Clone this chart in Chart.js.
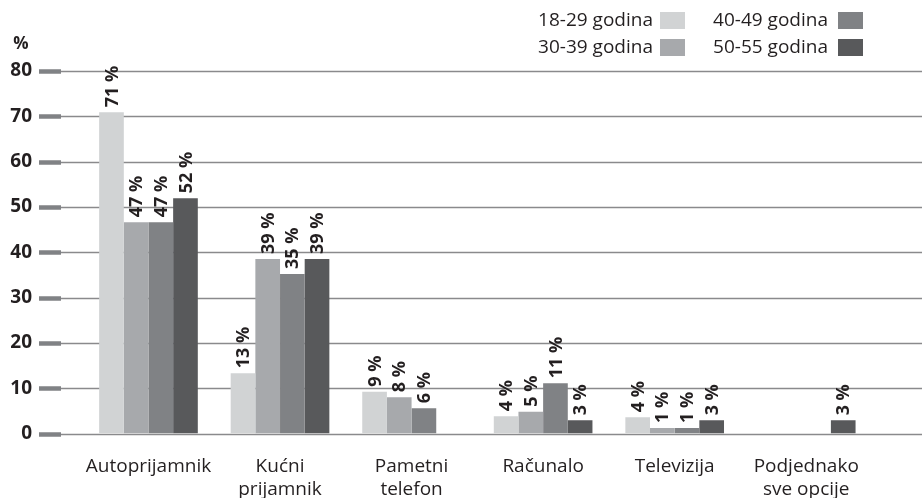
<!DOCTYPE html>
<html>
<head>
<meta charset="utf-8">
<script src="https://cdn.jsdelivr.net/npm/chart.js@4.4.1/dist/chart.umd.min.js"></script>
<style>
  html, body { margin: 0; padding: 0; background: #fff; }
  #wrap { width: 922px; height: 498px; }
</style>
</head>
<body>
<div id="wrap"><canvas id="chart" width="922" height="498"></canvas></div>
<script>
// Categories (multi-line labels)
const categories = [
    ['Autoprijamnik'],
    ['Kućni', 'prijamnik'],
    ['Pametni', 'telefon'],
    ['Računalo'],
    ['Televizija'],
    ['Podjednako', 'sve opcije']
];
const seriesNames = ['18-29 godina', '30-39 godina', '40-49 godina', '50-55 godina'];
const seriesColors = ['#d1d3d4', '#a7a9ac', '#808285', '#58595b'];

// Values (percent)
const age18_29 = [70.9, 13.3, 9.2, 3.8, 3.6, null];
const age30_39 = [46.6, 38.5, 8.0, 4.8, 1.2, null];
const age40_49 = [46.6, 35.2, 5.6, 11.1, 1.2, null];
const age50_55 = [51.9, 38.5, null, 2.9, 2.9, 2.9];

const yTicks = [0, 10, 20, 30, 40, 50, 60, 70, 80];

const TEXT = '#231f20';
const FONT = "'Open Sans', sans-serif";

/**
 * Horizontal lines across the full width, with the thick dash at the left
 */
const gridPlugin = {
    id: 'fullGrid',
    beforeDatasetsDraw(chart) {
        const ctx = chart.ctx;
        const y = chart.scales.y;
        ctx.save();
        yTicks.forEach(v => {
            const py = Math.round(y.getPixelForValue(v)) + 0.5;
            ctx.strokeStyle = '#8a8a8c';
            ctx.lineWidth = 1.5;
            ctx.beginPath();
            ctx.moveTo(61, py);
            ctx.lineTo(922, py);
            ctx.stroke();
            ctx.strokeStyle = '#808285';
            ctx.lineWidth = 4.5;
            ctx.beginPath();
            ctx.moveTo(39, py);
            ctx.lineTo(61, py);
            ctx.stroke();
        });
        ctx.restore();
    }
};

/**
 * Rotated value labels above bars, "%" unit and the legend
 */
const labelPlugin = {
    id: 'valueLabels',
    afterDatasetsDraw(chart) {
        const ctx = chart.ctx;
        ctx.save();
        ctx.fillStyle = TEXT;
        ctx.font = 'bold 18px ' + FONT;
        chart.data.datasets.forEach((ds, i) => {
            const meta = chart.getDatasetMeta(i);
            meta.data.forEach((bar, j) => {
                const v = ds.data[j];
                if (v === null || v === undefined) return;
                ctx.save();
                ctx.translate(bar.x + 1, bar.y - 5);
                ctx.rotate(-Math.PI / 2);
                ctx.textAlign = 'left';
                ctx.textBaseline = 'middle';
                ctx.fillText(Math.round(v) + ' %', 0, 0);
                ctx.restore();
            });
        });

        // unit label
        ctx.font = 'bold 17px ' + FONT;
        ctx.textAlign = 'center';
        ctx.textBaseline = 'middle';
        ctx.fillText('%', 21, 44);

        // legend, 2 x 2, text then box
        const cols = [{ textRight: 653, boxX: 660 }, { textRight: 828, boxX: 838 }];
        const rows = [12, 39];
        ctx.font = '19px ' + FONT;
        ctx.textAlign = 'right';
        chart.data.datasets.forEach((ds, i) => {
            const col = cols[Math.floor(i / 2)];
            const top = rows[i % 2];
            ctx.fillStyle = TEXT;
            ctx.fillText(ds.label, col.textRight, top + 9);
            ctx.fillStyle = ds.backgroundColor;
            ctx.fillRect(col.boxX, top, 25, 17);
        });
        ctx.restore();
    }
};

const seriesData = [age18_29, age30_39, age40_49, age50_55];
const datasets = seriesData.map((d, i) => ({
    label: seriesNames[i],
    data: d,
    backgroundColor: seriesColors[i],
    borderWidth: 0,
    categoryPercentage: 0.75,
    barPercentage: 1.0
}));

Chart.defaults.font.family = FONT;
Chart.defaults.color = TEXT;

new Chart(document.getElementById('chart').getContext('2d'), {
    type: 'bar',
    data: { labels: categories, datasets: datasets },
    options: {
        responsive: false,
        animation: false,
        devicePixelRatio: 1,
        layout: { padding: { top: 71, right: 50, bottom: 0, left: 0 } },
        plugins: {
            legend: { display: false },
            tooltip: { enabled: false }
        },
        scales: {
            x: {
                grid: { display: false, drawTicks: false },
                border: { display: false },
                ticks: {
                    padding: 22,
                    color: TEXT,
                    font: { size: 19 },
                    maxRotation: 0,
                    autoSkip: false
                },
                afterFit(scale) { scale.height = 64.5; }
            },
            y: {
                min: 0,
                max: 80,
                grid: { display: false, drawTicks: false },
                border: { display: false },
                ticks: {
                    stepSize: 10,
                    padding: 50.7,
                    color: TEXT,
                    font: { size: 19, weight: 'bold' }
                },
                afterFit(scale) { scale.width = 82.7; }
            }
        }
    },
    plugins: [gridPlugin, labelPlugin]
});
</script>
</body>
</html>
